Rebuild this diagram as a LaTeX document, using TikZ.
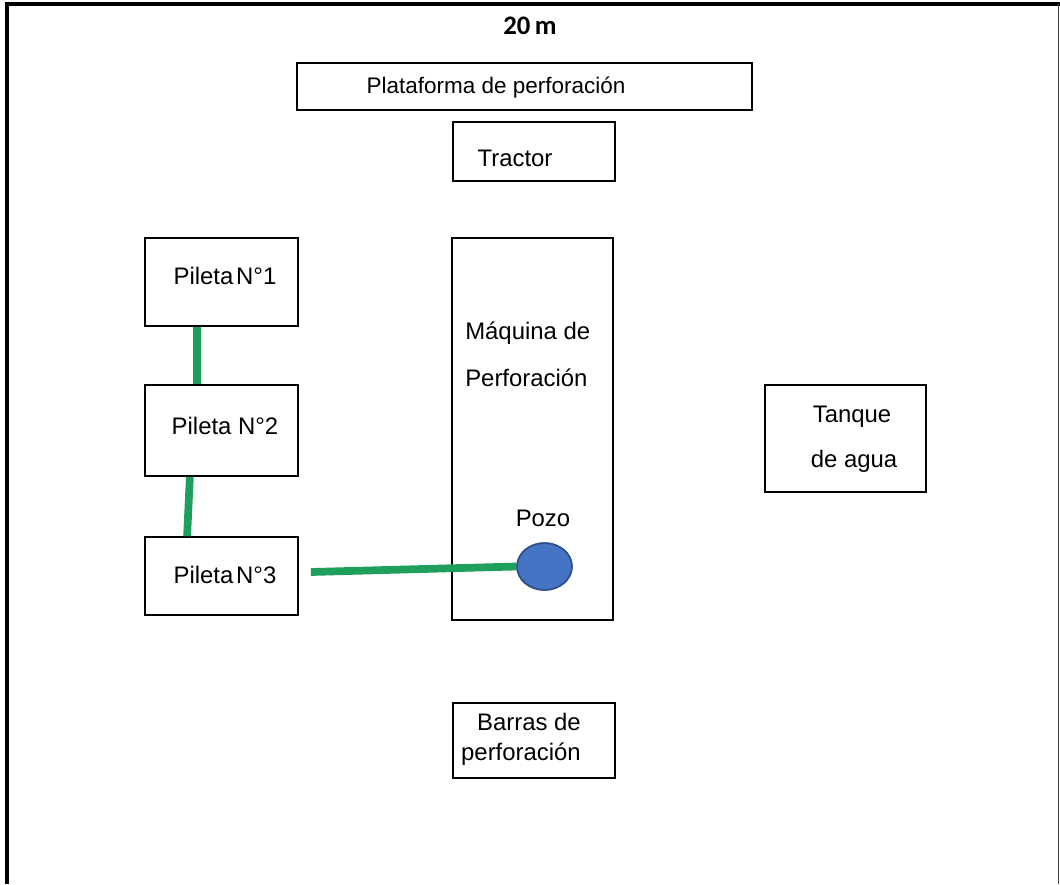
\documentclass[tikz,border=0pt]{standalone}
\usepackage{fontspec}
\setmainfont{Liberation Sans}
\newfontfamily\headfont{Carlito}
\usetikzlibrary{positioning,shapes.geometric}
\definecolor{pipegreen}{HTML}{1E9F5B}
\definecolor{wellblue}{HTML}{4674C4}
\definecolor{welledge}{HTML}{2F528F}

\begin{document}
\begin{tikzpicture}[x=0.025cm, y=-0.025cm,
      area/.style={rectangle, draw=black, line width=1.2pt, inner sep=0pt},
      lbl/.style={font=\fontsize{17}{20}\selectfont, inner sep=0pt, anchor=base},
      pipe/.style={draw=pipegreen, line width=5.5pt},
      well/.style={ellipse, draw=welledge, fill=wellblue, line width=1.2pt,
        minimum width=1.37cm, minimum height=1.17cm, inner sep=0pt}
    ]
      \useasboundingbox (0,0) rectangle (1060,884);
      \draw[line width=2.2pt] (7,884) -- (7,4) -- (1060,4);
      \draw[line width=1.1pt, black!75] (1058.5,4) -- (1058.5,884);

      \node[anchor=base, inner sep=0pt, font=\headfont\bfseries\fontsize{19}{22}\selectfont] (scale) at (530,34) {20\,m};

      \node[area, minimum width=11.375cm, minimum height=1.175cm] (plat) at (524.5,86.5) {};
      \node[lbl, font=\fontsize{16}{19}\selectfont] (platT) at (496,93) {Plataforma de perforación};

      \node[area, minimum width=4.05cm, minimum height=1.475cm] (tractor) at (534,151.5) {};
      \node[lbl] (tractorT) at (515,166) {Tractor};

      \node[area, minimum width=4.025cm, minimum height=9.55cm] (maq) at (532.5,429) {};
      \node[lbl, anchor=base west] (maqT1) at (465,339) {Máquina de};
      \node[lbl, anchor=base west] (maqT2) at (465,386) {Perforación};
      \node[lbl] (pozoT) at (543,526) {Pozo};
      \node[well] (pozo) at (544.5,566.5) {};

      \node[area, minimum width=3.825cm, minimum height=2.2cm] (p1) at (221.5,282) {};
      \node[area, minimum width=3.825cm, minimum height=2.275cm] (p2) at (221.5,430.5) {};
      \node[area, minimum width=3.825cm, minimum height=1.95cm] (p3) at (221.5,576) {};
      \node[lbl] (p1T) at (225,284) {Pileta\hspace{2pt}N°1};
      \node[lbl] (p2T) at (225,434) {Pileta N°2};
      \node[lbl] (p3T) at (225,583) {Pileta\hspace{2pt}N°3};

      \node[area, minimum width=4.025cm, minimum height=2.675cm] (tanque) at (845.5,438.5) {};
      \node[lbl] (tanqueT1) at (852,422) {Tanque};
      \node[lbl] (tanqueT2) at (854,467) {de agua};

      \node[area, minimum width=4.05cm, minimum height=1.875cm] (barras) at (534,740.5) {};
      \node[lbl] (barrasT1) at (529,730) {Barras de};
      \node[lbl] (barrasT2) at (521,760) {perforación};

      \draw[pipe] ([xshift=-0.61cm]p1.south) -- ([xshift=-0.61cm]p2.north);
      \draw[pipe] ([xshift=-0.79cm]p2.south) -- ([xshift=-0.86cm]p3.north);
      \draw[pipe] ([xshift=0.3cm, yshift=0.1cm]p3.east) -- (pozo.west);
      \node[well] at (pozo) {};
    \end{tikzpicture}
\end{document}
